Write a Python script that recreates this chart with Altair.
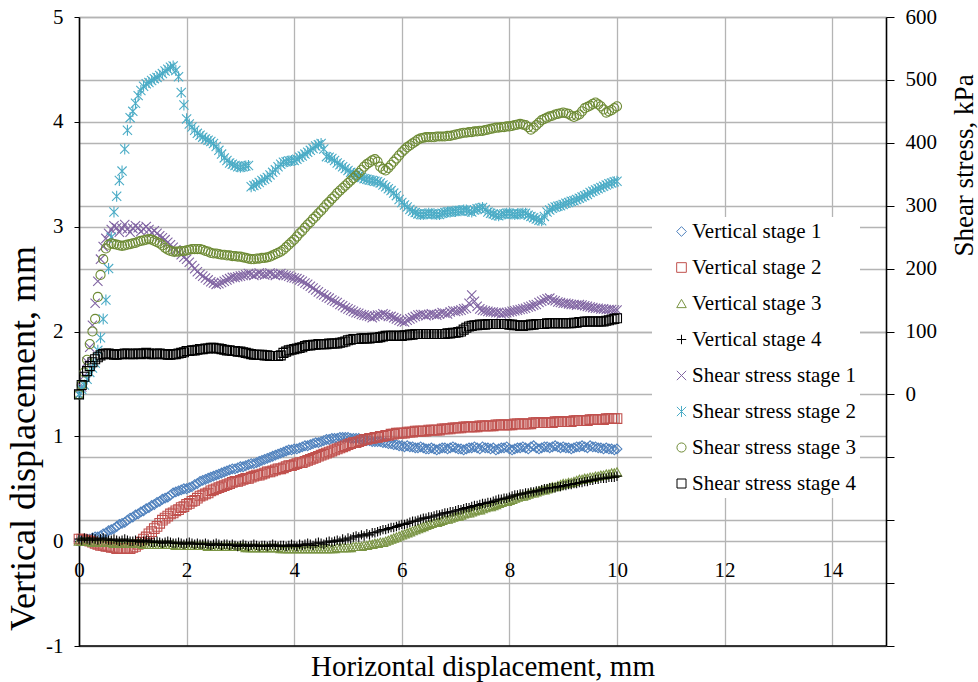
import altair as alt
import pandas as pd

# Horizontal displacement sampling (mm)
disp_mm = [0.0, 0.05, 0.1, 0.15, 0.2, 0.25, 0.3, 0.35, 0.4, 0.45, 0.5, 0.55, 0.6, 0.65, 0.7, 0.75, 0.8, 0.85, 0.9, 0.95,
           1.0, 1.05, 1.1, 1.15, 1.2, 1.25, 1.3, 1.35, 1.4, 1.45, 1.5, 1.55, 1.6, 1.65, 1.7, 1.75, 1.8, 1.85, 1.9, 1.95,
           2.0, 2.05, 2.1, 2.15, 2.2, 2.25, 2.3, 2.35, 2.4, 2.45, 2.5, 2.55, 2.6, 2.65, 2.7, 2.75, 2.8, 2.85, 2.9, 2.95,
           3.0, 3.05, 3.1, 3.15, 3.2, 3.25, 3.3, 3.35, 3.4, 3.45, 3.5, 3.55, 3.6, 3.65, 3.7, 3.75, 3.8, 3.85, 3.9, 3.95,
           4.0, 4.05, 4.1, 4.15, 4.2, 4.25, 4.3, 4.35, 4.4, 4.45, 4.5, 4.55, 4.6, 4.65, 4.7, 4.75, 4.8, 4.85, 4.9, 4.95,
           5.0, 5.05, 5.1, 5.15, 5.2, 5.25, 5.3, 5.35, 5.4, 5.45, 5.5, 5.55, 5.6, 5.65, 5.7, 5.75, 5.8, 5.85, 5.9, 5.95,
           6.0, 6.05, 6.1, 6.15, 6.2, 6.25, 6.3, 6.35, 6.4, 6.45, 6.5, 6.55, 6.6, 6.65, 6.7, 6.75, 6.8, 6.85, 6.9, 6.95,
           7.0, 7.05, 7.1, 7.15, 7.2, 7.25, 7.3, 7.35, 7.4, 7.45, 7.5, 7.55, 7.6, 7.65, 7.7, 7.75, 7.8, 7.85, 7.9, 7.95,
           8.0, 8.05, 8.1, 8.15, 8.2, 8.25, 8.3, 8.35, 8.4, 8.45, 8.5, 8.55, 8.6, 8.65, 8.7, 8.75, 8.8, 8.85, 8.9, 8.95,
           9.0, 9.05, 9.1, 9.15, 9.2, 9.25, 9.3, 9.35, 9.4, 9.45, 9.5, 9.55, 9.6, 9.65, 9.7, 9.75, 9.8, 9.85, 9.9, 9.95,
           10.0]

# Vertical displacement (mm), left axis
vert_stage1 = [0.00, 0.01, 0.01, 0.02, 0.02, 0.03, 0.04, 0.04, 0.05, 0.07, 0.08, 0.10, 0.11, 0.12, 0.14, 0.16, 0.17, 0.18, 0.20, 0.22,
               0.23, 0.25, 0.26, 0.28, 0.29, 0.31, 0.32, 0.34, 0.35, 0.37, 0.38, 0.40, 0.41, 0.42, 0.44, 0.46, 0.47, 0.48, 0.49, 0.50,
               0.50, 0.51, 0.52, 0.54, 0.55, 0.57, 0.58, 0.59, 0.60, 0.61, 0.62, 0.63, 0.64, 0.65, 0.66, 0.67, 0.68, 0.69, 0.69, 0.70,
               0.71, 0.71, 0.72, 0.73, 0.74, 0.74, 0.75, 0.76, 0.77, 0.78, 0.79, 0.80, 0.81, 0.82, 0.83, 0.84, 0.85, 0.86, 0.87, 0.87,
               0.88, 0.88, 0.89, 0.90, 0.91, 0.91, 0.92, 0.93, 0.94, 0.94, 0.95, 0.96, 0.97, 0.97, 0.98, 0.98, 0.98, 0.99, 0.99, 0.99,
               0.99, 0.98, 0.98, 0.98, 0.98, 0.97, 0.97, 0.96, 0.96, 0.95, 0.95, 0.95, 0.95, 0.94, 0.94, 0.93, 0.93, 0.92, 0.92, 0.91,
               0.91, 0.90, 0.91, 0.90, 0.90, 0.89, 0.89, 0.90, 0.89, 0.88, 0.88, 0.89, 0.88, 0.87, 0.88, 0.89, 0.89, 0.88, 0.89, 0.90,
               0.89, 0.88, 0.88, 0.87, 0.88, 0.89, 0.89, 0.90, 0.89, 0.88, 0.90, 0.89, 0.89, 0.88, 0.89, 0.87, 0.88, 0.89, 0.89, 0.90,
               0.88, 0.87, 0.88, 0.89, 0.89, 0.90, 0.89, 0.88, 0.90, 0.91, 0.89, 0.88, 0.89, 0.90, 0.90, 0.89, 0.90, 0.91, 0.90, 0.89,
               0.90, 0.89, 0.89, 0.88, 0.89, 0.90, 0.90, 0.91, 0.90, 0.89, 0.91, 0.90, 0.90, 0.89, 0.89, 0.88, 0.89, 0.88, 0.88, 0.87,
               0.88]
vert_stage2 = [0.02, 0.02, 0.01, 0.01, 0.00, -0.01, -0.02, -0.03, -0.04, -0.04, -0.05, -0.05, -0.06, -0.06, -0.07, -0.07, -0.07, -0.07, -0.07, -0.07,
               -0.06, -0.05, -0.03, -0.01, 0.02, 0.04, 0.07, 0.09, 0.12, 0.14, 0.17, 0.20, 0.22, 0.24, 0.26, 0.27, 0.29, 0.30, 0.32, 0.33,
               0.35, 0.36, 0.38, 0.39, 0.41, 0.43, 0.44, 0.45, 0.46, 0.48, 0.49, 0.50, 0.51, 0.52, 0.53, 0.54, 0.55, 0.56, 0.57, 0.57,
               0.58, 0.59, 0.60, 0.60, 0.61, 0.62, 0.63, 0.63, 0.64, 0.65, 0.66, 0.66, 0.67, 0.68, 0.69, 0.69, 0.70, 0.71, 0.72, 0.72,
               0.73, 0.74, 0.75, 0.75, 0.76, 0.77, 0.78, 0.79, 0.80, 0.81, 0.82, 0.83, 0.84, 0.85, 0.86, 0.87, 0.88, 0.89, 0.90, 0.91,
               0.92, 0.93, 0.94, 0.94, 0.95, 0.96, 0.97, 0.97, 0.98, 0.98, 0.99, 0.99, 1.00, 1.00, 1.01, 1.01, 1.02, 1.02, 1.03, 1.03,
               1.03, 1.03, 1.04, 1.04, 1.04, 1.05, 1.05, 1.05, 1.05, 1.05, 1.06, 1.06, 1.06, 1.06, 1.06, 1.07, 1.07, 1.07, 1.07, 1.08,
               1.08, 1.08, 1.08, 1.09, 1.09, 1.09, 1.09, 1.09, 1.09, 1.10, 1.10, 1.10, 1.10, 1.10, 1.10, 1.11, 1.11, 1.11, 1.11, 1.11,
               1.11, 1.11, 1.12, 1.12, 1.12, 1.12, 1.12, 1.12, 1.12, 1.13, 1.13, 1.13, 1.13, 1.13, 1.13, 1.13, 1.13, 1.14, 1.14, 1.14,
               1.14, 1.14, 1.14, 1.14, 1.15, 1.15, 1.15, 1.15, 1.15, 1.15, 1.16, 1.16, 1.16, 1.16, 1.16, 1.16, 1.17, 1.17, 1.17, 1.17,
               1.17]
vert_stage3 = [0.00, 0.00, 0.00, 0.00, 0.00, -0.01, -0.01, -0.01, -0.01, -0.01, -0.01, -0.01, -0.01, -0.02, -0.02, -0.02, -0.02, -0.02, -0.02, -0.02,
               -0.02, -0.02, -0.02, -0.02, -0.03, -0.03, -0.03, -0.03, -0.03, -0.03, -0.03, -0.03, -0.03, -0.03, -0.03, -0.03, -0.04, -0.04, -0.04, -0.04,
               -0.04, -0.04, -0.04, -0.04, -0.04, -0.04, -0.04, -0.04, -0.05, -0.05, -0.05, -0.05, -0.05, -0.05, -0.05, -0.05, -0.05, -0.05, -0.05, -0.05,
               -0.05, -0.05, -0.06, -0.06, -0.06, -0.06, -0.06, -0.06, -0.06, -0.06, -0.06, -0.06, -0.06, -0.06, -0.06, -0.07, -0.07, -0.07, -0.07, -0.07,
               -0.07, -0.07, -0.07, -0.07, -0.07, -0.07, -0.07, -0.07, -0.07, -0.07, -0.07, -0.07, -0.07, -0.07, -0.07, -0.07, -0.06, -0.06, -0.06, -0.06,
               -0.06, -0.06, -0.05, -0.05, -0.05, -0.05, -0.04, -0.04, -0.03, -0.03, -0.02, -0.02, -0.01, -0.01, 0.00, 0.01, 0.02, 0.03, 0.04, 0.05,
               0.06, 0.07, 0.08, 0.09, 0.10, 0.11, 0.12, 0.13, 0.14, 0.15, 0.16, 0.17, 0.18, 0.18, 0.19, 0.20, 0.21, 0.21, 0.22, 0.23,
               0.24, 0.24, 0.25, 0.26, 0.27, 0.27, 0.28, 0.29, 0.30, 0.30, 0.31, 0.32, 0.33, 0.33, 0.34, 0.35, 0.36, 0.37, 0.38, 0.38,
               0.39, 0.40, 0.41, 0.42, 0.43, 0.43, 0.44, 0.45, 0.46, 0.46, 0.47, 0.48, 0.49, 0.49, 0.50, 0.51, 0.52, 0.52, 0.53, 0.54,
               0.55, 0.55, 0.56, 0.56, 0.57, 0.58, 0.59, 0.59, 0.60, 0.60, 0.61, 0.61, 0.62, 0.62, 0.63, 0.63, 0.64, 0.64, 0.65, 0.65,
               0.66]
vert_stage4 = [0.02, 0.01, 0.03, 0.02, 0.01, 0.03, 0.02, 0.01, 0.02, 0.03, 0.02, 0.01, 0.01, 0.02, 0.01, 0.00, 0.01, 0.02, 0.01, 0.00,
               0.00, 0.01, 0.00, -0.01, 0.00, 0.01, 0.00, -0.01, -0.01, 0.00, -0.01, -0.02, -0.01, 0.00, -0.01, -0.02, -0.02, -0.01, -0.02, -0.03,
               -0.02, -0.01, -0.02, -0.03, -0.02, -0.03, -0.03, -0.02, -0.03, -0.04, -0.03, -0.02, -0.03, -0.04, -0.03, -0.03, -0.04, -0.03, -0.04, -0.05,
               -0.04, -0.03, -0.04, -0.05, -0.04, -0.03, -0.04, -0.05, -0.04, -0.04, -0.05, -0.04, -0.03, -0.04, -0.05, -0.04, -0.04, -0.05, -0.04, -0.03,
               -0.04, -0.05, -0.03, -0.04, -0.03, -0.02, -0.03, -0.04, -0.02, -0.01, -0.02, -0.03, -0.01, 0.00, -0.01, 0.00, 0.01, 0.00, 0.02, 0.01,
               0.03, 0.02, 0.04, 0.05, 0.04, 0.06, 0.05, 0.07, 0.06, 0.08, 0.08, 0.09, 0.10, 0.11, 0.11, 0.12, 0.13, 0.13, 0.14, 0.15,
               0.16, 0.16, 0.17, 0.18, 0.19, 0.19, 0.20, 0.21, 0.22, 0.22, 0.23, 0.23, 0.24, 0.25, 0.25, 0.26, 0.27, 0.27, 0.28, 0.28,
               0.29, 0.30, 0.30, 0.31, 0.32, 0.32, 0.33, 0.34, 0.34, 0.35, 0.36, 0.36, 0.37, 0.37, 0.38, 0.39, 0.40, 0.40, 0.41, 0.41,
               0.42, 0.43, 0.44, 0.44, 0.45, 0.45, 0.46, 0.46, 0.47, 0.47, 0.48, 0.48, 0.49, 0.50, 0.50, 0.51, 0.51, 0.51, 0.52, 0.52,
               0.53, 0.53, 0.54, 0.54, 0.55, 0.55, 0.56, 0.56, 0.57, 0.57, 0.58, 0.58, 0.59, 0.59, 0.60, 0.60, 0.60, 0.61, 0.61, 0.61,
               0.62]

# Shear stress (kPa), right axis
shear_stage1 = [0, 12, 30, 52, 75, 110, 145, 180, 215, 235, 248, 256, 262, 268, 265, 258, 264, 270, 263, 258,
                264, 268, 265, 259, 263, 267, 262, 257, 260, 256, 252, 249, 246, 242, 238, 234, 230, 226, 222, 218,
                215, 210, 205, 200, 195, 191, 188, 185, 182, 179, 177, 175, 176, 178, 180, 182, 184, 186, 186, 187,
                188, 189, 190, 192, 191, 189, 191, 193, 191, 190, 191, 193, 191, 189, 191, 192, 190, 189, 188, 186,
                185, 184, 182, 180, 177, 175, 172, 169, 166, 163, 160, 158, 155, 153, 150, 148, 146, 143, 141, 138,
                136, 134, 132, 130, 129, 127, 126, 125, 124, 122, 124, 126, 126, 128, 127, 124, 124, 122, 120, 118,
                116, 115, 118, 120, 122, 124, 126, 127, 127, 125, 127, 128, 127, 126, 128, 130, 129, 128, 131, 133,
                132, 133, 134, 136, 137, 145, 158, 148, 140, 136, 134, 133, 132, 131, 131, 130, 130, 128, 129, 130,
                131, 132, 133, 134, 135, 136, 137, 139, 140, 142, 143, 146, 148, 150, 152, 153, 150, 149, 147, 146,
                145, 145, 144, 143, 143, 142, 143, 142, 141, 140, 139, 138, 137, 137, 136, 136, 135, 135, 135, 134,
                134]
shear_stage2 = [0, 8, 15, 24, 35, 42, 50, 70, 90, 120, 150, 200, 250, 290, 315, 340, 355, 390, 420, 440,
                450, 463, 475, 483, 490, 494, 496, 499, 502, 504, 507, 510, 514, 517, 520, 522, 515, 505, 480, 460,
                438, 430, 425, 420, 415, 412, 409, 406, 404, 402, 399, 394, 388, 382, 376, 372, 368, 366, 364, 362,
                361, 362, 363, 364, 330, 332, 334, 337, 340, 342, 345, 349, 353, 357, 362, 366, 369, 370, 371, 372,
                372, 374, 377, 379, 382, 385, 388, 391, 395, 397, 399, 390, 378, 377, 375, 372, 368, 365, 362, 359,
                356, 353, 351, 349, 347, 345, 343, 342, 341, 340, 339, 338, 336, 333, 330, 327, 324, 320, 316, 310,
                305, 301, 298, 294, 291, 289, 287, 286, 286, 287, 288, 287, 287, 286, 286, 288, 289, 290, 290, 291,
                291, 292, 292, 293, 293, 291, 290, 293, 295, 296, 297, 294, 290, 288, 287, 285, 284, 286, 287, 288,
                288, 287, 286, 287, 287, 288, 288, 285, 283, 281, 279, 277, 276, 283, 290, 293, 296, 298, 299, 300,
                302, 304, 305, 307, 308, 310, 312, 314, 316, 318, 321, 323, 325, 327, 329, 331, 333, 335, 336, 338,
                339]
shear_stage3 = [0, 15, 35, 55, 80, 100, 120, 155, 190, 215, 232, 238, 240, 239, 238, 237, 236, 237, 238, 239,
                240, 241, 243, 244, 245, 246, 247, 246, 244, 242, 240, 237, 233, 230, 228, 227, 227, 227, 228, 228,
                229, 230, 231, 231, 231, 231, 230, 228, 227, 225, 224, 224, 223, 222, 222, 221, 221, 220, 220, 219,
                219, 218, 217, 216, 215, 215, 216, 216, 217, 217, 218, 219, 221, 223, 225, 227, 230, 234, 238, 242,
                246, 251, 256, 260, 265, 270, 274, 279, 283, 288, 292, 297, 302, 306, 311, 315, 320, 324, 328, 332,
                336, 340, 344, 348, 352, 357, 362, 366, 369, 372, 374, 370, 362, 358, 356, 360, 365, 370, 375, 380,
                385, 389, 393, 396, 399, 402, 405, 407, 408, 409, 409, 409, 409, 410, 410, 410, 410, 411, 411, 412,
                413, 414, 415, 416, 416, 417, 417, 418, 418, 419, 419, 420, 421, 422, 423, 424, 424, 425, 425, 426,
                426, 427, 428, 429, 430, 429, 428, 425, 421, 424, 428, 432, 436, 438, 440, 442, 443, 445, 446, 447,
                448, 447, 446, 443, 441, 443, 445, 450, 455, 457, 459, 462, 464, 461, 458, 453, 448, 450, 452, 455,
                458]
shear_stage4 = [0, 15, 28, 37, 45, 51, 56, 59, 62, 64, 65, 65, 64, 63, 63, 64, 64, 65, 65, 64,
                64, 65, 65, 64, 65, 66, 65, 64, 64, 65, 65, 64, 64, 63, 63, 64, 64, 65, 66, 67,
                69, 69, 70, 70, 71, 72, 72, 73, 73, 74, 74, 73, 73, 72, 71, 70, 70, 69, 69, 68,
                68, 67, 66, 65, 64, 63, 63, 63, 63, 62, 62, 61, 61, 61, 61, 62, 66, 68, 70, 71,
                72, 73, 74, 75, 77, 78, 78, 79, 79, 80, 80, 80, 80, 81, 81, 81, 81, 82, 83, 84,
                86, 87, 88, 88, 88, 89, 89, 89, 89, 90, 90, 90, 91, 92, 93, 93, 93, 93, 93, 93,
                93, 94, 94, 95, 95, 96, 96, 96, 96, 96, 96, 96, 96, 96, 96, 96, 96, 97, 97, 98,
                98, 99, 100, 103, 106, 108, 109, 110, 110, 111, 111, 111, 112, 112, 112, 112, 112, 112, 112, 112,
                111, 111, 110, 110, 109, 109, 110, 110, 111, 111, 112, 112, 112, 112, 113, 113, 113, 113, 113, 113,
                113, 113, 113, 113, 114, 114, 115, 115, 116, 116, 116, 116, 116, 116, 116, 116, 117, 118, 119, 120,
                121]

series_names = ["Vertical stage 1", "Vertical stage 2", "Vertical stage 3", "Vertical stage 4",
                "Shear stress stage 1", "Shear stress stage 2", "Shear stress stage 3",
                "Shear stress stage 4"]
series_colors = ["#4F81BD", "#C0504D", "#7A9443", "#000000",
                 "#8064A2", "#4BACC6", "#6E8B35", "#000000"]
series_shapes = ["diamond", "square", "triangle-up", "M-1,0L1,0M0,-1L0,1",
                 "M-1,-1L1,1M-1,1L1,-1", "M-1,-1L1,1M-1,1L1,-1M0,-1.2L0,1.2",
                 "circle", "square"]
series_sizes = [95, 81, 90, 100, 100, 110, 144, 100]

vert_lists = [vert_stage1, vert_stage2, vert_stage3, vert_stage4]
shear_lists = [shear_stage1, shear_stage2, shear_stage3, shear_stage4]


def long_table(names, lists, field):
    rows = []
    for name, vals in zip(names, lists):
        for x, val in zip(disp_mm, vals):
            rows.append({"x": x, field: val, "series": name})
    return pd.DataFrame(rows)


vert_df = long_table(series_names[:4], vert_lists, "v")
shear_df = long_table(series_names[4:], shear_lists, "s")

SERIF = "Liberation Serif"
GRID = "#b4b4b4"
W, H = 807, 629

color_scale = alt.Scale(domain=series_names, range=series_colors)
shape_scale = alt.Scale(domain=series_names, range=series_shapes)
size_scale = alt.Scale(domain=series_names, range=series_sizes)

legend = alt.Legend(title=None, orient="none", legendX=573, legendY=200,
                    fillColor="white", padding=4, labelFont=SERIF, labelFontSize=21,
                    labelColor="black", labelLimit=400, symbolSize=70,
                    symbolStrokeWidth=1, rowPadding=14, labelOffset=0, symbolOffset=15,
                    labelExpr="datum.label + '\u00a0\u00a0\u00a0\u00a0\u00a0\u00a0\u00a0'")

x_enc = alt.X("x:Q", scale=alt.Scale(domain=[0, 15], nice=False, zero=False),
              axis=alt.Axis(values=[0, 2, 4, 6, 8, 10, 12, 14], offset=-105, domain=False,
                            ticks=False, labelFont=SERIF, labelFontSize=21, labelColor="black",
                            labelPadding=18, labelFlush=False, grid=True, gridColor=GRID,
                            gridWidth=1.3, title="Horizontal displacement, mm",
                            titleFont=SERIF, titleFontSize=29, titleFontWeight="normal",
                            titleColor="black", titleY=134, titleBaseline="alphabetic"))

color_enc = alt.Color("series:N", scale=color_scale, legend=legend)
shape_enc = alt.Shape("series:N", scale=shape_scale, legend=legend)
size_enc = alt.Size("series:N", scale=size_scale, legend=None)

vert_layer = alt.Chart(vert_df).mark_point(filled=False, opacity=1, strokeWidth=1.1).encode(
    x=x_enc,
    y=alt.Y("v:Q", scale=alt.Scale(domain=[-1, 5], nice=False, zero=False),
            axis=alt.Axis(values=[-1, 0, 1, 2, 3, 4, 5], labelExpr="'' + datum.value",
                          domainColor="black", domainWidth=1.6, tickColor="black", tickSize=5,
                          labelPadding=11, labelFont=SERIF, labelFontSize=21, labelColor="black",
                          grid=True, gridColor=GRID, gridWidth=1.3,
                          title="Vertical displacement, mm", titleFont=SERIF, titleFontSize=36,
                          titleFontWeight="normal", titleColor="black", titleX=-56, titleY=421,
                          titleAngle=270, titleBaseline="middle", titleAlign="center")),
    color=color_enc, shape=shape_enc, size=size_enc,
)

shear_layer = alt.Chart(shear_df).mark_point(filled=False, opacity=1, strokeWidth=1.1).encode(
    x=x_enc,
    y=alt.Y("s:Q", scale=alt.Scale(domain=[-400, 600], nice=False, zero=False),
            axis=alt.Axis(orient="right", values=[-400, -300, -200, -100, 0, 100, 200, 300, 400, 500, 600],
                          labelExpr="datum.value >= 0 ? '' + datum.value : ''",
                          domainColor="black", domainWidth=1.6, tickColor="black", tickSize=8,
                          labelPadding=11, labelFont=SERIF, labelFontSize=21, labelColor="black",
                          grid=True, gridColor=GRID, gridWidth=1.3,
                          title="Shear stress, kPa", titleFont=SERIF, titleFontSize=27,
                          titleFontWeight="normal", titleColor="black", titleX=78, titleY=148,
                          titleAngle=270, titleBaseline="middle", titleAlign="center")),
    color=color_enc, shape=shape_enc, size=size_enc,
)

frame_bottom = alt.Chart(pd.DataFrame({"k": [0]})).mark_rule(color="black", strokeWidth=1.5).encode(
    x=alt.value(0), x2=alt.value(W), y=alt.value(H)
)

chart = alt.layer(vert_layer, shear_layer, frame_bottom).resolve_scale(
    y="independent"
).properties(
    width=W, height=H,
    autosize=alt.AutoSizeParams(type="none"),
    padding={"left": 79, "top": 17, "right": 92, "bottom": 36},
    background="white",
).configure_view(stroke=None)

chart.save("out.html", embed_options={"renderer": "svg", "actions": False})
